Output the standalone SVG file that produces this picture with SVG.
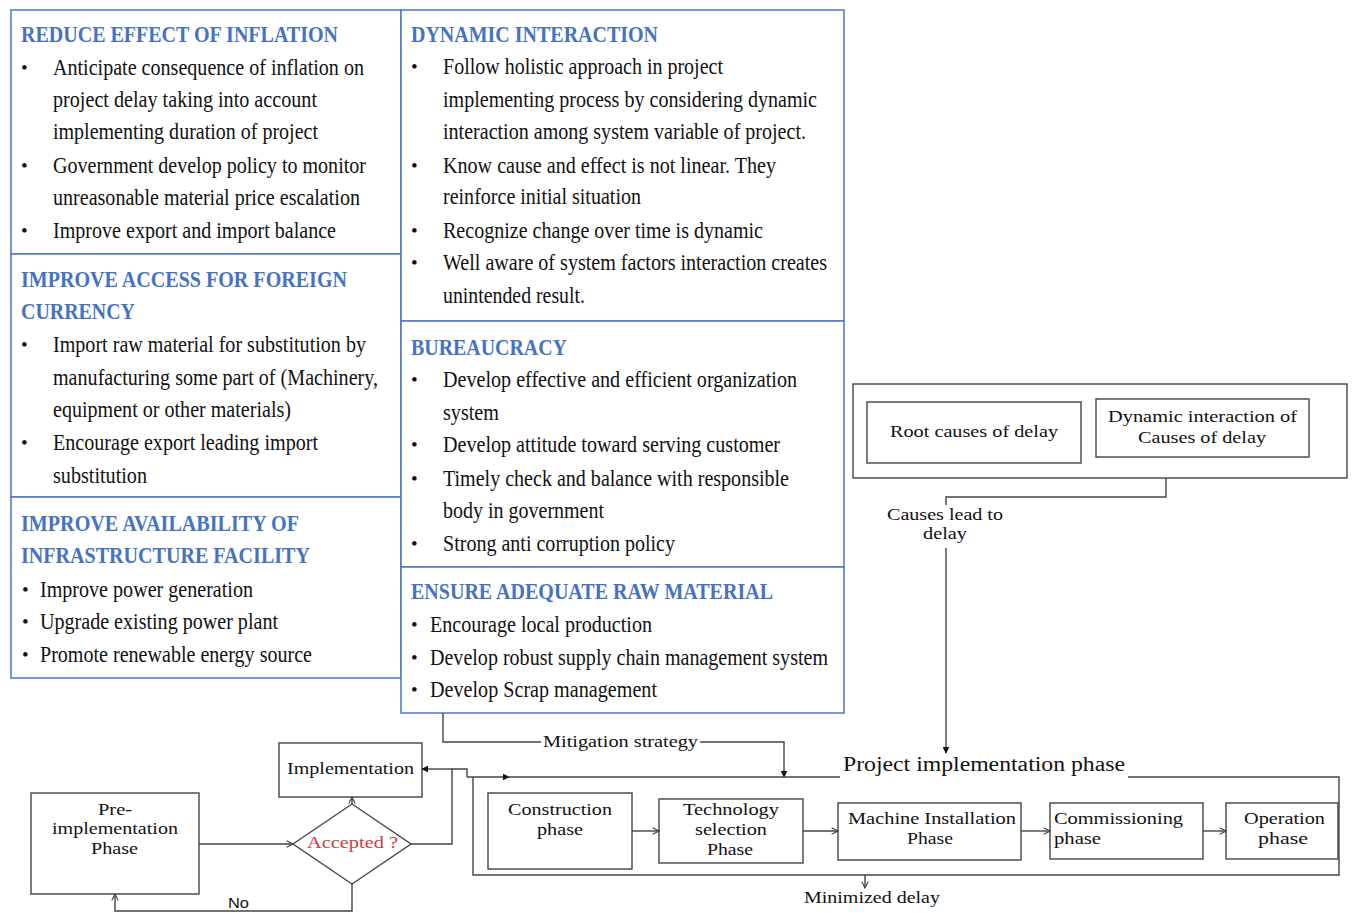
<svg xmlns="http://www.w3.org/2000/svg" width="1360" height="913" viewBox="0 0 1360 913">
  <style>
    .panel { fill: #fff; stroke: #4a78c8; stroke-width: 1.5; }
    .h { font-family: "Liberation Serif", serif; font-weight: bold; font-size: 23px; fill: #4472c4; }
    .b { font-family: "Liberation Serif", serif; font-size: 23px; fill: #111; }
    .dot { font-family: "Liberation Serif", serif; font-size: 19px; fill: #111; }
    .f { font-family: "Liberation Serif", serif; font-size: 17px; fill: #111; }
    .box { fill: #fff; stroke: #444; stroke-width: 1.4; }
    .ln { fill: none; stroke: #444; stroke-width: 1.4; }
  </style>
  <defs>
    <marker id="solid" viewBox="0 0 10 10" refX="9" refY="5" markerWidth="7" markerHeight="7" markerUnits="userSpaceOnUse" orient="auto">
      <path d="M0,0 L10,5 L0,10 z" fill="#111"/>
    </marker>
    <marker id="open" viewBox="0 0 10 10" refX="9" refY="5" markerWidth="8" markerHeight="8" markerUnits="userSpaceOnUse" orient="auto">
      <path d="M1,1 L9,5 L1,9" fill="none" stroke="#444" stroke-width="1.4"/>
    </marker>
  </defs>
  <rect width="1360" height="913" fill="#fff"/>

  <!-- strategy panels -->
  <g id="reduce-inflation">
    <rect class="panel" x="11" y="10" width="390" height="244"/>
    <text class="h" x="21" y="42" textLength="317" lengthAdjust="spacingAndGlyphs">REDUCE EFFECT OF INFLATION</text>
    <text class="dot" x="21" y="74">•</text>
    <text class="b" x="53" y="75" textLength="311" lengthAdjust="spacingAndGlyphs">Anticipate consequence of inflation on</text>
    <text class="b" x="53" y="107" textLength="264" lengthAdjust="spacingAndGlyphs">project delay taking into account</text>
    <text class="b" x="53" y="139" textLength="265" lengthAdjust="spacingAndGlyphs">implementing duration of project</text>
    <text class="dot" x="21" y="172">•</text>
    <text class="b" x="53" y="173" textLength="313" lengthAdjust="spacingAndGlyphs">Government develop policy to monitor</text>
    <text class="b" x="53" y="205" textLength="307" lengthAdjust="spacingAndGlyphs">unreasonable material price escalation</text>
    <text class="dot" x="21" y="237">•</text>
    <text class="b" x="53" y="238" textLength="283" lengthAdjust="spacingAndGlyphs">Improve export and import balance</text>
  </g>

  <g id="foreign-currency">
    <rect class="panel" x="11" y="254" width="390" height="243"/>
    <text class="h" x="21" y="287" textLength="326" lengthAdjust="spacingAndGlyphs">IMPROVE ACCESS FOR FOREIGN</text>
    <text class="h" x="21" y="319" textLength="114" lengthAdjust="spacingAndGlyphs">CURRENCY</text>
    <text class="dot" x="21" y="351">•</text>
    <text class="b" x="53" y="352" textLength="313" lengthAdjust="spacingAndGlyphs">Import raw material for substitution by</text>
    <text class="b" x="53" y="385" textLength="325" lengthAdjust="spacingAndGlyphs">manufacturing some part of (Machinery,</text>
    <text class="b" x="53" y="417" textLength="238" lengthAdjust="spacingAndGlyphs">equipment or other materials)</text>
    <text class="dot" x="21" y="449">•</text>
    <text class="b" x="53" y="450" textLength="265" lengthAdjust="spacingAndGlyphs">Encourage export leading import</text>
    <text class="b" x="53" y="483" textLength="94" lengthAdjust="spacingAndGlyphs">substitution</text>
  </g>

  <g id="infrastructure">
    <rect class="panel" x="11" y="497" width="390" height="181"/>
    <text class="h" x="21" y="531" textLength="278" lengthAdjust="spacingAndGlyphs">IMPROVE AVAILABILITY OF</text>
    <text class="h" x="21" y="563" textLength="289" lengthAdjust="spacingAndGlyphs">INFRASTRUCTURE FACILITY</text>
    <text class="dot" x="22" y="596">•</text>
    <text class="b" x="40" y="597" textLength="213" lengthAdjust="spacingAndGlyphs">Improve power generation</text>
    <text class="dot" x="22" y="628">•</text>
    <text class="b" x="40" y="629" textLength="238" lengthAdjust="spacingAndGlyphs">Upgrade existing power plant</text>
    <text class="dot" x="22" y="661">•</text>
    <text class="b" x="40" y="662" textLength="272" lengthAdjust="spacingAndGlyphs">Promote renewable energy source</text>
  </g>

  <g id="dynamic-interaction">
    <rect class="panel" x="401" y="10" width="443" height="311"/>
    <text class="h" x="411" y="42" textLength="247" lengthAdjust="spacingAndGlyphs">DYNAMIC INTERACTION</text>
    <text class="dot" x="411" y="73">•</text>
    <text class="b" x="443" y="74" textLength="280" lengthAdjust="spacingAndGlyphs">Follow holistic approach in project</text>
    <text class="b" x="443" y="107" textLength="374" lengthAdjust="spacingAndGlyphs">implementing process by considering dynamic</text>
    <text class="b" x="443" y="139" textLength="363" lengthAdjust="spacingAndGlyphs">interaction among system variable of project.</text>
    <text class="dot" x="411" y="172">•</text>
    <text class="b" x="443" y="173" textLength="333" lengthAdjust="spacingAndGlyphs">Know cause and effect is not linear. They</text>
    <text class="b" x="443" y="204" textLength="198" lengthAdjust="spacingAndGlyphs">reinforce initial situation</text>
    <text class="dot" x="411" y="237">•</text>
    <text class="b" x="443" y="238" textLength="320" lengthAdjust="spacingAndGlyphs">Recognize change over time is dynamic</text>
    <text class="dot" x="411" y="269">•</text>
    <text class="b" x="443" y="270" textLength="384" lengthAdjust="spacingAndGlyphs">Well aware of system factors interaction creates</text>
    <text class="b" x="443" y="303" textLength="142" lengthAdjust="spacingAndGlyphs">unintended result.</text>
  </g>

  <g id="bureaucracy">
    <rect class="panel" x="401" y="321" width="443" height="246"/>
    <text class="h" x="411" y="355" textLength="156" lengthAdjust="spacingAndGlyphs">BUREAUCRACY</text>
    <text class="dot" x="411" y="386">•</text>
    <text class="b" x="443" y="387" textLength="354" lengthAdjust="spacingAndGlyphs">Develop effective and efficient organization</text>
    <text class="b" x="443" y="420" textLength="56" lengthAdjust="spacingAndGlyphs">system</text>
    <text class="dot" x="411" y="451">•</text>
    <text class="b" x="443" y="452" textLength="337" lengthAdjust="spacingAndGlyphs">Develop attitude toward serving customer</text>
    <text class="dot" x="411" y="485">•</text>
    <text class="b" x="443" y="486" textLength="346" lengthAdjust="spacingAndGlyphs">Timely check and balance with responsible</text>
    <text class="b" x="443" y="518" textLength="161" lengthAdjust="spacingAndGlyphs">body in government</text>
    <text class="dot" x="411" y="550">•</text>
    <text class="b" x="443" y="551" textLength="232" lengthAdjust="spacingAndGlyphs">Strong anti corruption policy</text>
  </g>

  <g id="raw-material">
    <rect class="panel" x="401" y="567" width="443" height="146"/>
    <text class="h" x="411" y="599" textLength="362" lengthAdjust="spacingAndGlyphs">ENSURE ADEQUATE RAW MATERIAL</text>
    <text class="dot" x="411" y="631">•</text>
    <text class="b" x="430" y="632" textLength="222" lengthAdjust="spacingAndGlyphs">Encourage local production</text>
    <text class="dot" x="411" y="664">•</text>
    <text class="b" x="430" y="665" textLength="398" lengthAdjust="spacingAndGlyphs">Develop robust supply chain management system</text>
    <text class="dot" x="411" y="696">•</text>
    <text class="b" x="430" y="697" textLength="227" lengthAdjust="spacingAndGlyphs">Develop Scrap management</text>
  </g>

  <!-- causes of delay -->
  <g id="causes">
    <rect class="box" x="853" y="384" width="494" height="94"/>
  </g>
  <g id="root-causes">
    <rect class="box" x="867" y="402" width="214" height="61"/>
    <text class="f" x="890" y="437" textLength="168" lengthAdjust="spacingAndGlyphs">Root causes of delay</text>
  </g>
  <g id="dynamic-causes">
    <rect class="box" x="1096" y="399" width="213" height="58"/>
    <text class="f" x="1108" y="422" textLength="189" lengthAdjust="spacingAndGlyphs">Dynamic interaction of</text>
    <text class="f" x="1138" y="443" textLength="128" lengthAdjust="spacingAndGlyphs">Causes of delay</text>
  </g>

  <!-- implementation flow -->
  <g id="pre-implementation">
    <rect class="box" x="31" y="793" width="168" height="101"/>
    <text class="f" x="98" y="815" textLength="34" lengthAdjust="spacingAndGlyphs">Pre-</text>
    <text class="f" x="52" y="834" textLength="126" lengthAdjust="spacingAndGlyphs">implementation</text>
    <text class="f" x="91" y="854" textLength="47" lengthAdjust="spacingAndGlyphs">Phase</text>
  </g>
  <g id="accepted">
    <path class="box" d="M293,844 L352,804 L411,844 L352,884 Z"/>
    <text class="f" x="307" y="848" textLength="91" lengthAdjust="spacingAndGlyphs" style="fill:#c9403d">Accepted ?</text>
  </g>
  <g id="implementation">
    <rect class="box" x="279" y="743" width="143" height="54"/>
    <text class="f" x="287" y="774" textLength="127" lengthAdjust="spacingAndGlyphs">Implementation</text>
  </g>
  <g id="construction">
    <rect class="box" x="488" y="793" width="144" height="76"/>
    <text class="f" x="508" y="815" textLength="104" lengthAdjust="spacingAndGlyphs">Construction</text>
    <text class="f" x="537" y="835" textLength="46" lengthAdjust="spacingAndGlyphs">phase</text>
  </g>
  <g id="technology">
    <rect class="box" x="659" y="799" width="144" height="64"/>
    <text class="f" x="683" y="815" textLength="96" lengthAdjust="spacingAndGlyphs">Technology</text>
    <text class="f" x="695" y="835" textLength="72" lengthAdjust="spacingAndGlyphs">selection</text>
    <text class="f" x="707" y="855" textLength="46" lengthAdjust="spacingAndGlyphs">Phase</text>
  </g>
  <g id="machine-installation">
    <rect class="box" x="838" y="803" width="183" height="57"/>
    <text class="f" x="848" y="824" textLength="168" lengthAdjust="spacingAndGlyphs">Machine Installation</text>
    <text class="f" x="907" y="844" textLength="46" lengthAdjust="spacingAndGlyphs">Phase</text>
  </g>
  <g id="commissioning">
    <rect class="box" x="1050" y="803" width="153" height="56"/>
    <text class="f" x="1054" y="824" textLength="129" lengthAdjust="spacingAndGlyphs">Commissioning</text>
    <text class="f" x="1054" y="844" textLength="47" lengthAdjust="spacingAndGlyphs">phase</text>
  </g>
  <g id="operation">
    <rect class="box" x="1226" y="803" width="112" height="56"/>
    <text class="f" x="1244" y="824" textLength="81" lengthAdjust="spacingAndGlyphs">Operation</text>
    <text class="f" x="1258" y="844" textLength="50" lengthAdjust="spacingAndGlyphs">phase</text>
  </g>

  <g id="connectors">
    <!-- causes lead to delay -->
    <path class="ln" d="M1166,478 V497 H946 V505"/>
    <path class="ln" d="M946,548 V753" marker-end="url(#solid)"/>
    <text class="f" x="887" y="520" textLength="116" lengthAdjust="spacingAndGlyphs">Causes lead to</text>
    <text class="f" x="923" y="539" textLength="44" lengthAdjust="spacingAndGlyphs">delay</text>

    <!-- mitigation strategy -->
    <path class="ln" d="M443,713 V742 H541"/>
    <path class="ln" d="M700,742 H784 V777" marker-end="url(#solid)"/>
    <text class="f" x="543" y="747" textLength="155" lengthAdjust="spacingAndGlyphs">Mitigation strategy</text>

    <!-- project implementation phase frame -->
    <path class="ln" d="M467,777 H509" marker-end="url(#solid)"/>
    <path class="ln" d="M507,777 H840"/>
    <path class="ln" d="M1128,777 H1339 V875 H473 V777"/>
    <text class="f" x="843" y="771" textLength="282" lengthAdjust="spacingAndGlyphs" style="font-size:20px">Project implementation phase</text>

    <!-- decision paths -->
    <path class="ln" d="M199,844 H293" marker-end="url(#open)"/>
    <path class="ln" d="M352,804 V797" marker-end="url(#open)"/>
    <path class="ln" d="M411,844 H452 V769 H467 V777"/>
    <path class="ln" d="M452,769 H422" marker-end="url(#solid)"/>
    <path class="ln" d="M352,884 V911 H115 V894" marker-end="url(#open)"/>
    <text x="228" y="908" textLength="21" lengthAdjust="spacingAndGlyphs" style="font-family:'Liberation Sans',sans-serif;font-size:15px;fill:#111">No</text>

    <!-- phase sequence -->
    <path class="ln" d="M632,831 H659" marker-end="url(#open)"/>
    <path class="ln" d="M803,831 H838" marker-end="url(#open)"/>
    <path class="ln" d="M1021,831 H1050" marker-end="url(#open)"/>
    <path class="ln" d="M1203,831 H1226" marker-end="url(#open)"/>

    <!-- minimized delay -->
    <path class="ln" d="M865,875 V888" marker-end="url(#open)"/>
    <text class="f" x="804" y="903" textLength="136" lengthAdjust="spacingAndGlyphs">Minimized delay</text>
  </g>
</svg>
